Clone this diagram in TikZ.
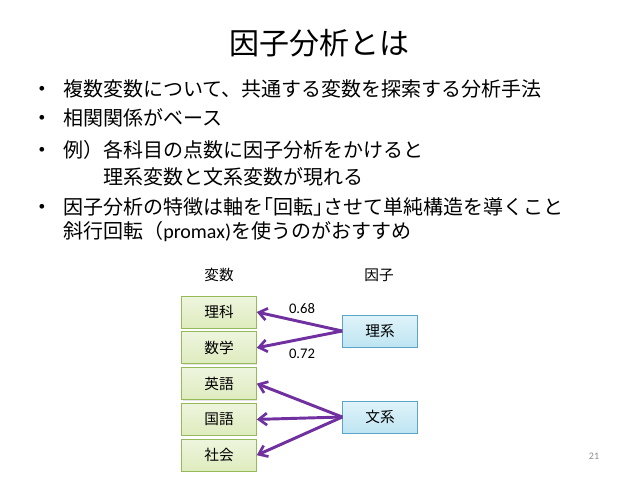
\documentclass[tikz,border=0pt]{standalone}
\usepackage{fontspec}
\setmainfont{Carlito}
\newfontfamily\jp{Noto Sans CJK JP}
\usepackage{tikz}
\usetikzlibrary{arrows.meta,positioning,shadows}
\definecolor{loadpurple}{RGB}{112,48,160}
\definecolor{vargreen}{RGB}{222,236,190}
\definecolor{vargreentop}{RGB}{238,245,222}
\definecolor{varedge}{RGB}{150,185,90}
\definecolor{factorblue}{RGB}{190,229,242}
\definecolor{factorbluetop}{RGB}{224,243,250}
\definecolor{factoredge}{RGB}{90,165,200}
\definecolor{pagegray}{RGB}{140,140,140}
\begin{document}
\begin{tikzpicture}[x=0.75pt,y=-0.75pt,
    varbox/.style={draw=varedge,line width=0.6pt,top color=vargreentop,bottom color=vargreen,
      minimum width=56pt,minimum height=24pt,inner sep=0pt,font=\jp\fontsize{11}{13}\selectfont,
      drop shadow={shadow xshift=0.8pt,shadow yshift=-0.8pt,opacity=0.2}},
    factorbox/.style={varbox,draw=factoredge,top color=factorbluetop,bottom color=factorblue},
    loading/.style={-{Straight Barb[length=6pt,width=9pt,line width=2pt]},loadpurple,line width=2.2pt},
    bodytext/.style={anchor=west,inner sep=0pt,font=\fontsize{15}{18}\selectfont}]
  \useasboundingbox[fill=white] (0,0) rectangle (638,479);
  % title and bullets
  \node[font=\jp\fontsize{22.5}{26}\selectfont] (title) at (319,43) {因子分析とは};
  \foreach \y/\name in {89/b1,118/b2,150/b3,207/b4}
    \node[font=\fontsize{10}{12}\selectfont] (\name) at (42,\y) {•};
  \node[bodytext] (l1) at (63,89) {\jp 複数変数について、共通する変数を探索する分析手法};
  \node[bodytext] (l2) at (63,118) {\jp 相関関係がベース};
  \node[bodytext] (l3) at (63,150) {\jp 例）各科目の点数に因子分析をかけると};
  \node[bodytext] (l3b) at (103,177) {\jp 理系変数と文系変数が現れる};
  \node[bodytext] (l4) at (63,207) {\jp 因子分析の特徴は軸を｢回転｣させて単純構造を導くこと};
  \node[bodytext] (l4b) at (63,232) {{\jp 斜行回転（}promax){\jp を使うのがおすすめ}};
  % diagram
  \node[font=\jp\fontsize{11}{13}\selectfont] (varhead) at (219,275) {変数};
  \node[font=\jp\fontsize{11}{13}\selectfont] (facthead) at (379,275) {因子};
  \node[varbox] (rika) at (219,312) {理科};
  \node[varbox,below=2.25pt of rika] (suugaku) {数学};
  \node[varbox,below=2.25pt of suugaku] (eigo) {英語};
  \node[varbox,below=2.25pt of eigo] (kokugo) {国語};
  \node[varbox,below=2.25pt of kokugo] (shakai) {社会};
  \node[factorbox] (rikei) at (380,331) {理系};
  \node[factorbox] (bunkei) at (380,417) {文系};
  \draw[loading] (rikei.west) -- (rika.east);
  \draw[loading] (rikei.west) -- (suugaku.east);
  \draw[loading] (bunkei.west) -- (eigo.east);
  \draw[loading] (bunkei.west) -- (kokugo.east);
  \draw[loading] (bunkei.west) -- (shakai.east);
  \node[font=\fontsize{11}{13}\selectfont] (w1) at (302,309) {0.68};
  \node[font=\fontsize{11}{13}\selectfont] (w2) at (302,354) {0.72};
  \node[font=\fontsize{7.5}{9}\selectfont,text=pagegray] (page) at (594,456) {21};
\end{tikzpicture}
\end{document}
